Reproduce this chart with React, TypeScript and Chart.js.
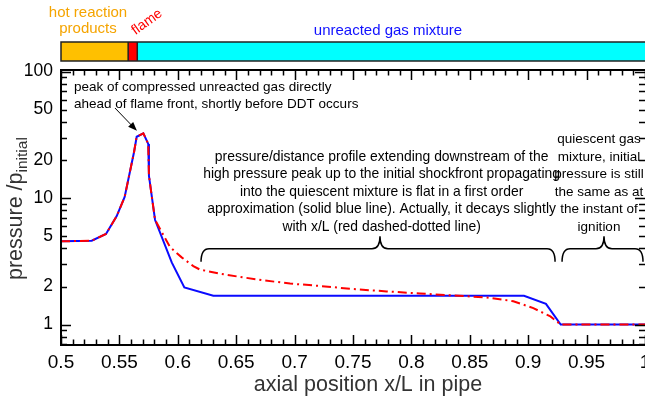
import React, { useEffect, useRef } from "react";
import { Chart, registerables } from "chart.js";
Chart.register(...registerables);

// ---- data ----
const blueX = [0.5, 0.5263, 0.5385, 0.5477, 0.5545, 0.5625, 0.5648, 0.5705, 0.5747, 0.5753, 0.5805, 0.5948, 0.6056, 0.6304, 0.8964, 0.9152, 0.9278, 1.0];
const blueY = [4.55, 4.6, 5.2, 7.2, 10.2, 23, 30.5, 32.5, 26.8, 15, 6.74, 3.1, 1.97, 1.69, 1.69, 1.46, 1.0, 1.0];
const redX = [0.5, 0.5263, 0.5385, 0.5477, 0.5545, 0.5625, 0.5648, 0.5705, 0.5747, 0.5753, 0.5805, 0.5933, 0.6033, 0.6133, 0.619, 0.6361, 0.6533, 0.6732, 0.6961, 0.7218, 0.75, 0.7788, 0.8074, 0.8359, 0.8645, 0.8873, 0.9044, 0.919, 0.928, 1.0];
const redY = [4.55, 4.6, 5.2, 7.2, 10.2, 23, 30.5, 32.5, 26.8, 15, 6.74, 4.1, 3.4, 2.9, 2.72, 2.53, 2.38, 2.24, 2.11, 2.02, 1.91, 1.83, 1.76, 1.7, 1.64, 1.53, 1.35, 1.16, 1.0, 1.0];

const xTickValues = [0.5, 0.55, 0.6, 0.65, 0.7, 0.75, 0.8, 0.85, 0.9, 0.95, 1.0];
const xTickLabels = ["0.5", "0.55", "0.6", "0.65", "0.7", "0.75", "0.8", "0.85", "0.9", "0.95", "1"];
const yTickValues = [1, 2, 5, 10, 20, 50, 100];
const yTickLabels = ["1", "2", "5", "10", "20", "50", "100"];
const xMin = 0.5;
const xMax = 1.0;
const yMin = 0.69;
const yMax = 102.8;

// top bar: boundaries along x/L and region names
const barBounds = [0.5, 0.5575, 0.5653, 1.0];
const barColors = ["#FFC000", "#FF0000", "#00FFFF"];
const regionHot = ["hot reaction", "products"];
const regionFlame = "flame";
const regionUnreacted = "unreacted gas mixture";

const peakNote = ["peak of compressed unreacted gas directly", "ahead of flame front, shortly before DDT occurs"];
const profileNote = [
  "pressure/distance profile extending downstream of the",
  "high pressure peak up to the initial shockfront propagating",
  "into the quiescent mixture is flat in a first order",
  "approximation (solid blue line). Actually, it decays slightly",
  "with x/L (red dashed-dotted line)",
];
const quiescentNote = ["quiescent gas", "mixture, initial", "pressure is still", "the same as at", "the instant of", "ignition"];

const xTitle = "axial position x/L in pipe";
const yTitleMain = "pressure /p";
const yTitleSub = "initial";

const FONT = '"Liberation Sans", Arial, Helvetica, sans-serif';

function drawBrace(ctx: CanvasRenderingContext2D, x0: number, x1: number, xc: number, yEnd: number, yMid: number, yTip: number) {
  const r = 8;
  ctx.beginPath();
  ctx.moveTo(x0, yEnd);
  ctx.quadraticCurveTo(x0, yMid, x0 + r, yMid);
  ctx.lineTo(xc - r, yMid);
  ctx.quadraticCurveTo(xc, yMid, xc, yTip);
  ctx.quadraticCurveTo(xc, yMid, xc + r, yMid);
  ctx.lineTo(x1 - r, yMid);
  ctx.quadraticCurveTo(x1, yMid, x1, yEnd);
  ctx.stroke();
}

const overlay = {
  id: "overlay",
  afterDatasetsDraw(chart: any) {
    const { ctx, chartArea: ca, scales } = chart;
    const xs = scales.x;
    const ys = scales.y;
    const px = (v: number) => xs.getPixelForValue(v);
    const py = (v: number) => ys.getPixelForValue(v);
    ctx.save();

    // frame
    ctx.strokeStyle = "#000";
    ctx.lineWidth = 2;
    ctx.strokeRect(ca.left, ca.top, ca.right - ca.left + 1, ca.bottom - ca.top);

    // x ticks (inward, top & bottom)
    ctx.lineWidth = 1.5;
    for (let i = 0; i <= 50; i++) {
      const v = xMin + i * 0.01;
      const major = i % 5 === 0;
      const len = major ? 10 : 5.5;
      const x = Math.round(px(v)) + 0.5;
      ctx.beginPath();
      ctx.moveTo(x, ca.bottom);
      ctx.lineTo(x, ca.bottom - len);
      ctx.moveTo(x, ca.top);
      ctx.lineTo(x, ca.top + len);
      ctx.stroke();
    }
    // y ticks (inward, left & right)
    const yMinor: number[] = [0.7, 0.8, 0.9];
    for (const dec of [1, 10]) for (let k = 1; k <= 9; k++) yMinor.push(k * dec);
    yMinor.push(100);
    for (const v of yMinor) {
      const major = v === 1 || v === 10 || v === 100;
      const len = major ? 10 : 6;
      const y = Math.round(py(v)) + 0.5;
      ctx.beginPath();
      ctx.moveTo(ca.left, y);
      ctx.lineTo(ca.left + len, y);
      ctx.moveTo(ca.right, y);
      ctx.lineTo(ca.right - len, y);
      ctx.stroke();
    }

    // annotations
    ctx.fillStyle = "#000";
    ctx.font = `13.5px ${FONT}`;
    ctx.textBaseline = "middle";
    ctx.textAlign = "left";
    peakNote.forEach((t, i) => ctx.fillText(t, 74, 87 + i * 17));

    // arrow
    const ax0 = px(0.5462), ay0 = py(51.5), ax1 = px(0.565), ay1 = py(34);
    const ang = Math.atan2(ay1 - ay0, ax1 - ax0);
    ctx.lineWidth = 1;
    ctx.beginPath();
    ctx.moveTo(ax0, ay0);
    ctx.lineTo(ax1 - 6 * Math.cos(ang), ay1 - 6 * Math.sin(ang));
    ctx.stroke();
    ctx.beginPath();
    ctx.moveTo(ax1, ay1);
    ctx.lineTo(ax1 - 9 * Math.cos(ang) + 3.5 * Math.sin(ang), ay1 - 9 * Math.sin(ang) - 3.5 * Math.cos(ang));
    ctx.lineTo(ax1 - 9 * Math.cos(ang) - 3.5 * Math.sin(ang), ay1 - 9 * Math.sin(ang) + 3.5 * Math.cos(ang));
    ctx.closePath();
    ctx.fill();

    ctx.textAlign = "center";
    ctx.font = `13.9px ${FONT}`;
    const midX = px(0.7745);
    profileNote.forEach((t, i) => ctx.fillText(t, midX, 157 + i * 17.5));
    ctx.font = `13.5px ${FONT}`;
    const rightX = 599;
    quiescentNote.forEach((t, i) => ctx.fillText(t, rightX, 139.5 + i * 17.5));

    // braces
    ctx.lineWidth = 1.5;
    drawBrace(ctx, px(0.6199), px(0.923), px(0.7731), py(3.14), py(3.98), py(5.0));
    drawBrace(ctx, px(0.929), px(1.0) - 2, px(0.9649), py(3.14), py(3.98), py(5.0));

    ctx.restore();
  },
  afterDraw(chart: any) {
    const { ctx, chartArea: ca, scales } = chart;
    const xs = scales.x;
    const px = (v: number) => xs.getPixelForValue(v);
    ctx.save();
    // top bar (runs off the right edge, as in the reference)
    const top = 42, bot = 61;
    const ext = (i: number) => (i === barBounds.length - 1 ? px(barBounds[i]) + 12 : px(barBounds[i]));
    for (let i = 0; i < barColors.length; i++) {
      ctx.fillStyle = barColors[i];
      ctx.fillRect(ext(i), top, ext(i + 1) - ext(i), bot - top);
    }
    ctx.strokeStyle = "#222";
    ctx.lineWidth = 1.5;
    ctx.strokeRect(ext(0), top, ext(3) - ext(0), bot - top);
    ctx.beginPath();
    for (const b of [barBounds[1], barBounds[2]]) {
      ctx.moveTo(px(b), top);
      ctx.lineTo(px(b), bot);
    }
    ctx.stroke();

    ctx.textBaseline = "middle";
    ctx.textAlign = "center";
    ctx.font = `15px ${FONT}`;
    ctx.fillStyle = "#F5A400";
    ctx.fillText(regionHot[0], 88, 13);
    ctx.fillText(regionHot[1], 88, 29);
    ctx.fillStyle = "#1010FF";
    ctx.fillText(regionUnreacted, 388, 31);
    ctx.save();
    ctx.translate(147, 22);
    ctx.rotate(-36 * Math.PI / 180);
    ctx.fillStyle = "#FF0000";
    ctx.font = `14px ${FONT}`;
    ctx.fillText(regionFlame, 0, 0);
    ctx.restore();

    // axis titles
    ctx.fillStyle = "#333";
    ctx.font = `21.5px ${FONT}`;
    ctx.textBaseline = "alphabetic";
    ctx.textAlign = "center";
    ctx.fillText(xTitle, (ca.left + ca.right) / 2 + 15, 391);

    ctx.save();
    ctx.translate(21.7, 280);
    ctx.rotate(-Math.PI / 2);
    ctx.textAlign = "left";
    ctx.font = `21.5px ${FONT}`;
    ctx.fillText(yTitleMain, 0, 0);
    const w = ctx.measureText(yTitleMain).width;
    ctx.font = `15.5px ${FONT}`;
    ctx.fillText(yTitleSub, w, 5);
    ctx.restore();
    ctx.restore();
  },
};

export default function App() {
  const ref = useRef<HTMLCanvasElement>(null);
  useEffect(() => {
    document.body.style.margin = "0";
    const canvas = ref.current!;
    const chart = new Chart(canvas, {
      type: "line",
      data: {
        datasets: [
          {
            label: "decaying profile",
            data: redX.map((x, i) => ({ x, y: redY[i] })),
            borderColor: "#FF0000",
            borderWidth: 2,
            borderDash: [9, 4, 2, 4],
            pointRadius: 0,
            tension: 0,
            order: 0,
          },
          {
            label: "flat profile",
            data: blueX.map((x, i) => ({ x, y: blueY[i] })),
            borderColor: "#0A0AFF",
            borderWidth: 2,
            pointRadius: 0,
            tension: 0,
            order: 1,
          },
        ],
      },
      options: {
        animation: false,
        responsive: false,
        events: [],
        layout: { padding: { top: 70, right: 15, left: 0, bottom: 0 } },
        plugins: { legend: { display: false }, tooltip: { enabled: false } },
        scales: {
          x: {
            type: "linear",
            min: xMin,
            max: xMax,
            grid: { display: false, drawTicks: false },
            border: { display: false },
            afterBuildTicks: (s: any) => {
              s.ticks = xTickValues.map((v) => ({ value: v }));
            },
            afterFit: (s: any) => {
              s.height = 51;
            },
            ticks: {
              autoSkip: false,
              maxRotation: 0,
              padding: 6,
              color: "#000",
              font: { family: FONT, size: 19 },
              callback: (_v: any, i: number) => xTickLabels[i],
            },
          },
          y: {
            type: "logarithmic",
            min: yMin,
            max: yMax,
            grid: { display: false, drawTicks: false },
            border: { display: false },
            afterBuildTicks: (s: any) => {
              s.ticks = yTickValues.map((v) => ({ value: v }));
            },
            afterFit: (s: any) => {
              s.width = 61;
            },
            ticks: {
              autoSkip: false,
              padding: 8,
              color: "#000",
              font: { family: FONT, size: 17.5 },
              callback: (_v: any, i: number) => yTickLabels[i],
            },
          },
        },
      } as any,
      plugins: [overlay],
    });
    return () => chart.destroy();
  }, []);
  return (
    <div style={{ position: "fixed", left: 0, top: 0, width: 645, height: 396, overflow: "hidden", background: "#fff" }}>
      <canvas ref={ref} width={660} height={396} style={{ display: "block", width: 660, height: 396 }} />
    </div>
  );
}
